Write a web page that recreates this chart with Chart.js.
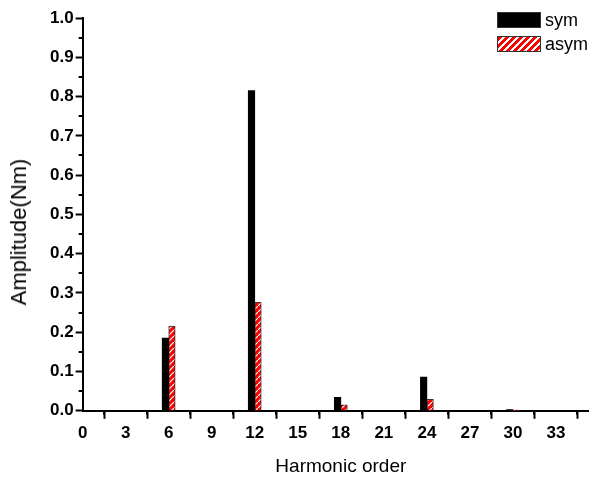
<!DOCTYPE html>
<html>
<head>
<meta charset="utf-8">
<script src="https://cdn.jsdelivr.net/npm/chart.js@4.4.1/dist/chart.umd.min.js"></script>
<style>
  html, body { margin: 0; padding: 0; background: #fff; overflow: hidden; }
  #wrap { position: relative; width: 620px; height: 482px; }
  #legend { position: absolute; left: 497px; top: 8px; font: 18px "Liberation Sans", Arial, sans-serif; color: #000; }
  #legend div { height: 24px; display: flex; align-items: center; white-space: nowrap; }
  #legend span.box { display: inline-block; width: 42px; height: 14px; margin-right: 4px; border: 1px solid #333; }
  #tituloY { position: absolute; left: 19px; top: 232px; transform: translate(-50%, -50%) rotate(-90deg);
             font: 22px "Liberation Sans", Arial, sans-serif; color: #000; white-space: nowrap; }
</style>
</head>
<body>
<div id="wrap">
  <canvas id="grafico"></canvas>
  <div id="tituloY">Amplitude(Nm)</div>
  <div id="legend">
    <div><span class="box" style="background:#000"></span>sym</div>
    <div><span class="box" style="background: repeating-linear-gradient(135deg, #f00 0 3px, #fff 3px 5px)"></span>asym</div>
  </div>
</div>
<script>
// harmonic orders and amplitudes (Nm)
const ordens = [6, 12, 18, 24, 30];
const sym = [0.185, 0.815, 0.034, 0.086, 0.003];
const asym = [0.216, 0.276, 0.015, 0.029, 0.002];

const eixoX = { min: 0, max: 36, passo: 3 };
const eixoY = { min: 0, max: 1, passo: 0.1 };

// hatch red/white para asym
const pc = document.createElement('canvas');
pc.width = 6; pc.height = 6;
const px = pc.getContext('2d');
px.fillStyle = '#ff0000';
px.fillRect(0, 0, 6, 6);
px.strokeStyle = '#ffffff';
px.lineWidth = 1.2;
px.beginPath();
px.moveTo(0, 6); px.lineTo(6, 0);
px.stroke();
const hachura = px.createPattern(pc, 'repeat');

const fonte = { family: '"Liberation Sans", Arial, sans-serif', size: 17, weight: 'bold' };
const fonteTitulo = { family: '"Liberation Sans", Arial, sans-serif', size: 19 };

// minor ticks entre os principais
const ticksMenores = {
    id: 'ticksMenores',
    afterDraw(chart) {
        const { ctx, chartArea, scales } = chart;
        ctx.save();
        ctx.strokeStyle = '#000';
        ctx.lineWidth = 2;
        ctx.beginPath();
        for (let v = eixoX.passo / 2; v < eixoX.max; v += eixoX.passo) {
            const x = Math.round(scales.x.getPixelForValue(v));
            ctx.moveTo(x, chartArea.bottom);
            ctx.lineTo(x, chartArea.bottom + 4);
        }
        for (let v = eixoY.passo / 2; v < eixoY.max; v += eixoY.passo) {
            const y = Math.round(scales.y.getPixelForValue(v));
            ctx.moveTo(chartArea.left, y);
            ctx.lineTo(chartArea.left - 4, y);
        }
        ctx.stroke();
        ctx.restore();
    }
};

new Chart(document.getElementById('grafico').getContext('2d'), {
    type: 'bar',
    data: {
        datasets: [
            {
                label: 'sym',
                data: ordens.map((o, i) => ({ x: o, y: sym[i] })),
                backgroundColor: '#000',
                barThickness: 6.5
            },
            {
                label: 'asym',
                data: ordens.map((o, i) => ({ x: o, y: asym[i] })),
                backgroundColor: hachura,
                borderColor: '#333',
                borderWidth: 1,
                borderSkipped: 'bottom',
                barThickness: 6.5
            }
        ]
    },
    options: {
        responsive: true,
        maintainAspectRatio: false,
        animation: false,
        layout: { padding: { top: 18, left: 48, right: 21, bottom: 0 } },
        plugins: { legend: { display: false }, tooltip: { enabled: false } },
        scales: {
            x: {
                type: 'linear',
                min: eixoX.min,
                max: eixoX.max,
                offset: false,
                grid: { drawOnChartArea: false, color: '#000', tickLength: 8, tickWidth: 2 },
                border: { color: '#000', width: 2 },
                ticks: { stepSize: eixoX.passo, color: '#000', font: fonte, padding: 4, maxRotation: 0, autoSkip: false },
                title: { display: true, text: 'Harmonic order', color: '#000', font: fonteTitulo, padding: { top: 8 } }
            },
            y: {
                min: eixoY.min,
                max: eixoY.max,
                grid: { drawOnChartArea: false, color: '#000', tickLength: 7, tickWidth: 2 },
                border: { color: '#000', width: 2 },
                ticks: { stepSize: eixoY.passo, color: '#000', font: fonte, padding: 2, callback: v => v.toFixed(1) }
            }
        }
    },
    plugins: [ticksMenores]
});
</script>
</body>
</html>
